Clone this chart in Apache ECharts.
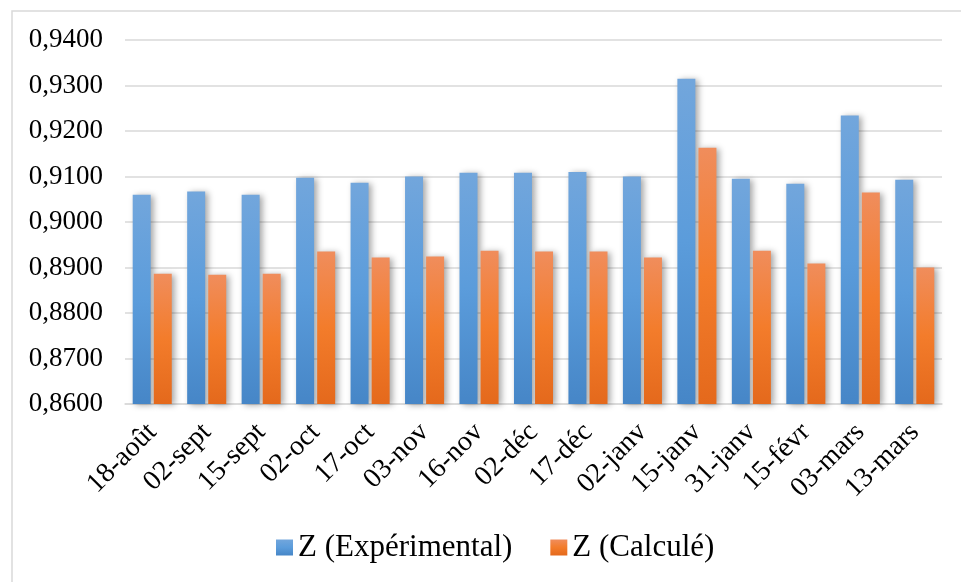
<!DOCTYPE html>
<html>
<head>
<meta charset="utf-8">
<script src="https://cdn.jsdelivr.net/npm/echarts@6/dist/echarts.min.js"></script>
<style>
  html, body { margin: 0; padding: 0; background: #fff; }
  #chart { width: 961px; height: 582px; }
</style>
</head>
<body>
<div id="chart"></div>
<script>
// Sampling dates
const categories = ['18-août', '02-sept', '15-sept', '02-oct', '17-oct', '03-nov', '16-nov',
  '02-déc', '17-déc', '02-janv', '15-janv', '31-janv', '15-févr', '03-mars', '13-mars'];

// Compressibility factor, measured
const zExperimental = [0.9060, 0.9067, 0.9060, 0.9097, 0.9086, 0.9100, 0.9108,
  0.9108, 0.9110, 0.9100, 0.9315, 0.9095, 0.9084, 0.9234, 0.9093];

// Compressibility factor, computed
const zCalcule = [0.8886, 0.8884, 0.8886, 0.8935, 0.8922, 0.8924, 0.8937,
  0.8935, 0.8935, 0.8922, 0.9163, 0.8937, 0.8909, 0.9065, 0.8900];

const seriesNames = ['Z (Expérimental)', 'Z (Calculé)'];

const FONT = "'Liberation Serif', 'Times New Roman', serif";

function vGrad(top, mid, bottom) {
  return new echarts.graphic.LinearGradient(0, 0, 0, 1, [
    { offset: 0, color: top },
    { offset: 0.5, color: mid },
    { offset: 1, color: bottom }
  ]);
}

const barShadow = {
  shadowColor: 'rgba(0,0,0,0.35)',
  shadowBlur: 6,
  shadowOffsetX: 3,
  shadowOffsetY: 1
};

const chart = echarts.init(document.getElementById('chart'));
chart.setOption({
  animation: false,
  backgroundColor: '#ffffff',
  graphic: [{
    type: 'rect',
    shape: { x: 12, y: 11, width: 960, height: 580 },
    style: { fill: 'none', stroke: '#d9d9d9', lineWidth: 1.5 },
    silent: true,
    z: -1
  }],
  grid: { left: 125, right: 19, top: 40, bottom: 178 },
  legend: {
    left: 271,
    top: 527,
    itemWidth: 17,
    itemHeight: 16,
    itemGap: 38,
    icon: 'rect',
    textStyle: { fontFamily: FONT, fontSize: 31, color: '#000' },
    data: seriesNames
  },
  xAxis: {
    type: 'category',
    data: categories,
    axisTick: { show: false },
    axisLine: { lineStyle: { color: '#d9d9d9', width: 1.5 } },
    axisLabel: {
      rotate: 45,
      interval: 0,
      margin: 24,
      fontFamily: FONT,
      fontSize: 28,
      color: '#000'
    }
  },
  yAxis: {
    type: 'value',
    min: 0.86,
    max: 0.94,
    interval: 0.01,
    axisLine: { show: false },
    axisTick: { show: false },
    splitLine: { lineStyle: { color: '#d9d9d9', width: 1.5 } },
    axisLabel: {
      margin: 22,
      fontFamily: FONT,
      fontSize: 27,
      color: '#000',
      formatter: v => v.toFixed(4).replace('.', ',')
    }
  },
  series: [{
    name: seriesNames[0],
    type: 'bar',
    data: zExperimental,
    barWidth: 18,
    barGap: '17%',
    itemStyle: Object.assign({ color: vGrad('#72a6dc', '#5b9cdb', '#4686c7') }, barShadow)
  }, {
    name: seriesNames[1],
    type: 'bar',
    data: zCalcule,
    barWidth: 18,
    barGap: '17%',
    itemStyle: Object.assign({ color: vGrad('#f08d5c', '#f37c2b', '#e4691c') }, barShadow)
  }]
});
</script>
</body>
</html>
